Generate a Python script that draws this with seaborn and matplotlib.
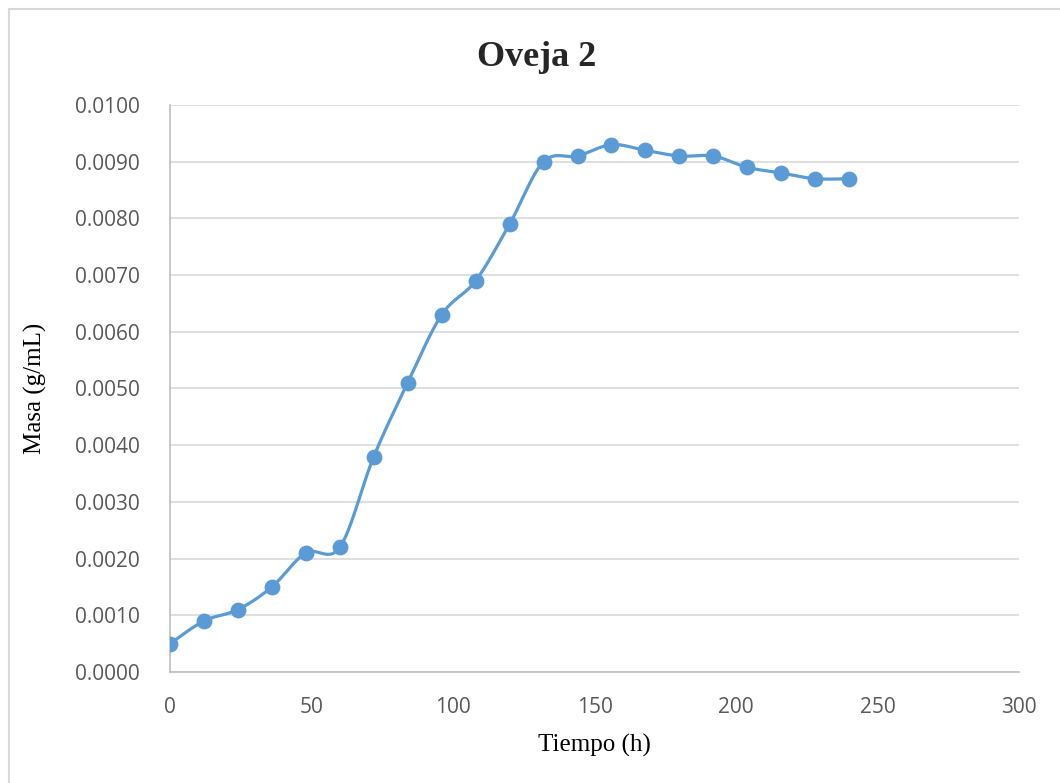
import numpy as np
import pandas as pd
import matplotlib
matplotlib.use("Agg")
import matplotlib.pyplot as plt
import seaborn as sns
from matplotlib.patches import Rectangle

# Data
tiempo = [0, 12, 24, 36, 48, 60, 72, 84, 96, 108, 120, 132, 144, 156, 168, 180, 192, 204, 216, 228, 240]
masa = [0.0005, 0.0009, 0.0011, 0.0015, 0.0021, 0.0022, 0.0038, 0.0051, 0.0063, 0.0069, 0.0079,
        0.0090, 0.0091, 0.0093, 0.0092, 0.0091, 0.0091, 0.0089, 0.0088, 0.0087, 0.0087]
title = "Oveja 2"
xlabel = "Tiempo (h)"
ylabel = "Masa (g/mL)"
yticks = [0.0, 0.001, 0.002, 0.003, 0.004, 0.005, 0.006, 0.007, 0.008, 0.009, 0.010]
xticks = [0, 50, 100, 150, 200, 250, 300]

color = "#5B9BD5"

def smooth_curve(x, y, n=30):
    # Excel-style smoothed line (Bezier through points, tension 1/6)
    x = np.asarray(x, float); y = np.asarray(y, float)
    px = np.concatenate([[x[0]], x, [x[-1]]])
    py = np.concatenate([[y[0]], y, [y[-1]]])
    xs, ys = [], []
    t = np.linspace(0, 1, n)
    for i in range(1, len(px) - 2):
        p0 = np.array([px[i], py[i]]); p3 = np.array([px[i + 1], py[i + 1]])
        c1 = p0 + (np.array([px[i + 1], py[i + 1]]) - np.array([px[i - 1], py[i - 1]])) / 6
        c2 = p3 - (np.array([px[i + 2], py[i + 2]]) - np.array([px[i], py[i]])) / 6
        b = ((1 - t) ** 3)[:, None] * p0 + (3 * (1 - t) ** 2 * t)[:, None] * c1 + \
            (3 * (1 - t) * t ** 2)[:, None] * c2 + (t ** 3)[:, None] * p3
        xs.extend(b[:, 0]); ys.extend(b[:, 1])
    return np.array(xs), np.array(ys)

sns.set_theme(style="white")
plt.rcParams["font.family"] = ["Open Sans", "DejaVu Sans"]

fig = plt.figure(figsize=(10.6, 7.83), dpi=100)
ax = fig.add_axes([0.1604, 0.1418, 0.9613 - 0.1604, 0.8659 - 0.1418])

# chart border
fig.patches.append(Rectangle((9 / 1060, -0.01), 1.02, 1 - 9 / 783 + 0.01, transform=fig.transFigure,
                             fill=False, edgecolor="#D9D9D9", linewidth=1.5, zorder=0))

sx, sy = smooth_curve(tiempo, masa)
df_line = pd.DataFrame({"x": sx, "y": sy})
df = pd.DataFrame({"Tiempo": tiempo, "Masa": masa})
sns.lineplot(data=df_line, x="x", y="y", ax=ax, color=color, linewidth=2.3, sort=False,
             estimator=None, zorder=3)
sns.scatterplot(data=df, x="Tiempo", y="Masa", ax=ax, color=color, s=130, edgecolor=color,
                linewidth=0, zorder=4)

ax.set_xlim(0, 300)
ax.set_ylim(0, 0.010)
ax.set_xticks(xticks)
ax.set_yticks(yticks)
ax.set_yticklabels([f"{v:.4f}" for v in yticks])
ax.tick_params(axis="both", labelsize=15, colors="#595959", length=0)
ax.tick_params(axis="x", pad=18)
ax.tick_params(axis="y", pad=22)
ax.yaxis.grid(True, color="#D9D9D9", linewidth=1.2)
ax.xaxis.grid(False)
for s in ["top", "right"]:
    ax.spines[s].set_visible(False)
for s in ["left", "bottom"]:
    ax.spines[s].set_color("#BFBFBF")
    ax.spines[s].set_linewidth(1.2)

ax.set_xlabel(xlabel, family="Liberation Serif", fontsize=18, color="black")
ax.set_ylabel(ylabel, family="Liberation Serif", fontsize=18, color="black")
ax.xaxis.set_label_coords(0.5, -(745 - 672) / (672 - 105), transform=ax.transAxes)
ax.xaxis.label.set_va("center")
ax.yaxis.set_label_coords(-(170 - 35) / (1019 - 170), 0.5, transform=ax.transAxes)
ax.yaxis.label.set_va("center")
fig.text(537 / 1060, 1 - 57 / 783, title, family="Liberation Serif", fontsize=26, fontweight="bold",
         ha="center", va="center")

fig.savefig("out.png", dpi=100, facecolor="white")
